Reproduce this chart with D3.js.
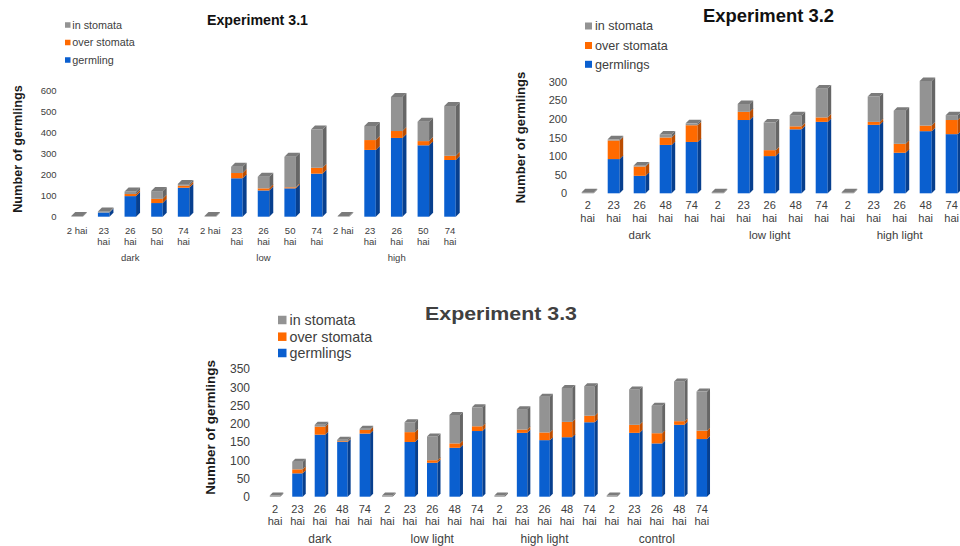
<!DOCTYPE html>
<html>
<head>
<meta charset="utf-8">
<script src="https://cdn.jsdelivr.net/npm/d3@7"></script>
<style>
  html, body { margin: 0; padding: 0; background: #fff; }
  svg { display: block; font-family: "Liberation Sans", Arial, sans-serif; }
</style>
</head>
<body>
<svg id="fig" width="960" height="546"></svg>
<script>
// ---------- Experiment 3.1 ----------
const exp31Groups = ["dark", "low", "high"];
const exp31Times = ["2 hai", "23 hai", "26 hai", "50 hai", "74 hai"];
const exp31Germling = [0, 20, 98, 65, 138,   0, 183, 125, 135, 205,   0, 318, 375, 340, 270];
const exp31Over     = [0,  0, 10, 20,  10,   0,  25,  10,   5,  28,   0,  47,  33,  20,  20];
const exp31In       = [3,  5, 12, 37,   8,   3,  30,  55, 145, 182,   3,  67, 162,  92, 237];
const exp31Ticks = [0, 100, 200, 300, 400, 500, 600];
const exp31Legend = ["in stomata", "over stomata", "germling"];

// ---------- Experiment 3.2 ----------
const exp32Groups = ["dark", "low light", "high light"];
const exp32Times = ["2 hai", "23 hai", "26 hai", "48 hai", "74 hai"];
const exp32Germling = [0, 92, 47, 130, 138,   0, 197, 100, 172, 192,   0, 184, 109, 167, 159];
const exp32Over     = [0, 50, 25,  20,  45,   0,  22,  16,   8,  12,   0,   8,  24,  15,  38];
const exp32In       = [3,  3,  3,   8,   5,   3,  21,  74,  30,  78,   3,  68,  89, 120,  13];
const exp32Ticks = [0, 50, 100, 150, 200, 250, 300];
const exp32Legend = ["in stomata", "over stomata", "germlings"];

// ---------- Experiment 3.3 ----------
const exp33Groups = ["dark", "low light", "high light", "control"];
const exp33Times = ["2 hai", "23 hai", "26 hai", "48 hai", "74 hai"];
const exp33Germling = [0, 64, 170, 150, 173,   0, 150, 93, 134, 180,   0, 175, 155, 163, 204,   0, 175, 146, 197, 158];
const exp33Over     = [0, 11,  22,   2,  10,   0,  27,  7,  12,  13,   0,   9,  21,  42,  18,   0,  22,  28,  10,  23];
const exp33In       = [3, 21,   5,   4,   3,   3,  27, 65,  78,  52,   3,  56,  98,  93,  81,   3,  97,  75, 109, 107];
const exp33Ticks = [0, 50, 100, 150, 200, 250, 300, 350];
const exp33Legend = ["in stomata", "over stomata", "germlings"];

// Face colours for the three stacked series (front / side / top)
const seriesKeys = ["germ", "over", "inSt"];
const faces = {
  germ: { front: "#0a5fcf", side: "#073f8e", top: "#0b52b4" },
  over: { front: "#ff6a00", side: "#bb4c00", top: "#dc5c00" },
  inSt: { front: "#939393", side: "#666666", top: "#7b7b7b" }
};
const legendKeys = ["inSt", "over", "germ"];

const svg = d3.select("#fig");

function drawPanel(cfg) {
  const g = svg.append("g");
  const n = cfg.germ.length;
  const rows = d3.range(n).map(i => ({ i, germ: cfg.germ[i], over: cfg.over[i], inSt: cfg.inSt[i] }));
  const stacked = d3.stack().keys(seriesKeys)(rows);

  const x = d3.scaleBand().domain(d3.range(n)).range(cfg.xRange).padding(0);
  const y = d3.scaleLinear().domain([0, d3.max(cfg.ticks)]).range(cfg.yRange);

  // title
  g.append("text")
    .attr("x", cfg.title.x).attr("y", cfg.title.y)
    .attr("text-anchor", "middle")
    .attr("font-size", cfg.title.size).attr("font-weight", "bold")
    .attr("fill", cfg.title.color)
    .attr("textLength", cfg.title.len).attr("lengthAdjust", "spacingAndGlyphs")
    .text(cfg.title.text);

  // legend
  const lg = g.append("g");
  legendKeys.forEach((k, j) => {
    const cy = cfg.legend.rows[j];
    lg.append("rect")
      .attr("x", cfg.legend.x).attr("y", cy - cfg.legend.sq / 2)
      .attr("width", cfg.legend.sq).attr("height", cfg.legend.sq)
      .attr("fill", faces[k].front);
    lg.append("text")
      .attr("x", cfg.legend.x + cfg.legend.sq + cfg.legend.gap).attr("y", cy)
      .attr("dy", "0.35em")
      .attr("font-size", cfg.legend.size).attr("fill", "#404040")
      .text(cfg.legendLabels[j]);
  });

  // y axis title
  g.append("text")
    .attr("transform", `translate(${cfg.yTitle.x},${cfg.yTitle.y}) rotate(-90)`)
    .attr("text-anchor", "middle").attr("dy", "0.35em")
    .attr("font-size", cfg.yTitle.size).attr("font-weight", "bold")
    .attr("fill", "#1a1a1a")
    .text("Number of germlings");

  // y axis (labels only)
  const ya = g.append("g")
    .attr("transform", `translate(${cfg.yTickX},0)`)
    .call(d3.axisLeft(y).tickValues(cfg.ticks).tickSize(0).tickPadding(0));
  ya.select(".domain").remove();
  ya.selectAll("text")
    .attr("font-size", cfg.tickSize).attr("fill", "#404040")
    .attr("font-family", null);

  // x axis (labels only, wrapped onto two lines)
  const labels = d3.range(n).map(i => cfg.times[i % cfg.times.length]);
  const xa = g.append("g")
    .call(d3.axisBottom(x).tickSize(0).tickFormat(i => labels[i]));
  xa.select(".domain").remove();
  xa.selectAll("text").each(function (i) {
    const t = d3.select(this);
    const lab = labels[i];
    t.text(null).attr("y", null).attr("dy", null)
      .attr("font-size", cfg.xTickSize).attr("fill", "#404040")
      .attr("font-family", null);
    if (lab.length <= cfg.oneLineMax) {
      t.append("tspan").attr("x", 0).attr("y", cfg.xLine1).text(lab);
    } else {
      const parts = lab.split(" ");
      t.append("tspan").attr("x", 0).attr("y", cfg.xLine1).text(parts[0]);
      t.append("tspan").attr("x", 0).attr("y", cfg.xLine2).text(parts[1]);
    }
  });

  // group labels under each block of time points
  const per = cfg.times.length;
  cfg.groups.forEach((name, gi) => {
    const cx = d3.mean(d3.range(gi * per, gi * per + per), i => x(i) + x.bandwidth() / 2);
    g.append("text")
      .attr("x", cx).attr("y", cfg.groupY)
      .attr("text-anchor", "middle")
      .attr("font-size", cfg.groupSize).attr("fill", "#404040")
      .text(name);
  });

  // 3-D style stacked columns
  const w = cfg.barW, dx = cfg.depth, dy = cfg.depth;
  const bars = g.append("g");
  d3.range(n).forEach(i => {
    const x0 = x(i) + x.bandwidth() / 2 - w / 2;
    let topK = null;
    seriesKeys.forEach((k, ki) => {
      const seg = stacked[ki][i];
      if (seg[1] - seg[0] <= 0) return;
      topK = ki;
      const yT = y(seg[1]), yB = y(seg[0]);
      bars.append("rect")
        .attr("x", x0).attr("y", yT).attr("width", w).attr("height", yB - yT)
        .attr("fill", faces[k].front);
      bars.append("polygon")
        .attr("points", [[x0 + w, yT], [x0 + w + dx, yT - dy], [x0 + w + dx, yB - dy], [x0 + w, yB]].join(" "))
        .attr("fill", faces[k].side);
    });
    if (topK !== null) {
      const k = seriesKeys[topK];
      const yT = y(stacked[topK][i][1]);
      bars.append("polygon")
        .attr("points", [[x0, yT], [x0 + dx, yT - dy], [x0 + w + dx, yT - dy], [x0 + w, yT]].join(" "))
        .attr("fill", faces[k].top);
    }
  });
}

drawPanel({
  germ: exp31Germling, over: exp31Over, inSt: exp31In,
  times: exp31Times, groups: exp31Groups, ticks: exp31Ticks, legendLabels: exp31Legend,
  xRange: [63.7, 463.3], yRange: [216.7, 90.7],
  title: { text: "Experiment 3.1", x: 257.5, y: 25, size: 15, color: "#111", len: 101 },
  legend: { x: 65, rows: [25, 42.5, 60], sq: 5.5, gap: 1.8, size: 10.8 },
  yTitle: { x: 18, y: 149, size: 12.7 },
  yTickX: 56.5, tickSize: 9.5,
  xTickSize: 9.5, xLine1: 233.5, xLine2: 245, oneLineMax: 5,
  groupY: 260.5, groupSize: 9.5,
  barW: 11.5, depth: 4
});

drawPanel({
  germ: exp32Germling, over: exp32Over, inSt: exp32In,
  times: exp32Times, groups: exp32Groups, ticks: exp32Ticks, legendLabels: exp32Legend,
  xRange: [574.7, 964.7], yRange: [193.3, 81.7],
  title: { text: "Experiment 3.2", x: 768.5, y: 21.5, size: 17.5, color: "#111", len: 131 },
  legend: { x: 585, rows: [26, 45.5, 64.3], sq: 7, gap: 3, size: 12.6 },
  yTitle: { x: 520, y: 137.5, size: 13.1 },
  yTickX: 567, tickSize: 11,
  xTickSize: 11, xLine1: 209, xLine2: 221.5, oneLineMax: 0,
  groupY: 239, groupSize: 11.5,
  barW: 12, depth: 3.5
});

drawPanel({
  germ: exp33Germling, over: exp33Over, inSt: exp33In,
  times: exp33Times, groups: exp33Groups, ticks: exp33Ticks, legendLabels: exp33Legend,
  xRange: [263.8, 713.0], yRange: [496.7, 369],
  title: { text: "Experiment 3.3", x: 501, y: 320, size: 18, color: "#404040", len: 152 },
  legend: { x: 278, rows: [320, 336.7, 353], sq: 8.5, gap: 3, size: 14.3 },
  yTitle: { x: 210, y: 427.5, size: 13.4 },
  yTickX: 250, tickSize: 12,
  xTickSize: 11, xLine1: 512.5, xLine2: 524.5, oneLineMax: 0,
  groupY: 542.5, groupSize: 12,
  barW: 10.5, depth: 3
});
</script>
</body>
</html>
